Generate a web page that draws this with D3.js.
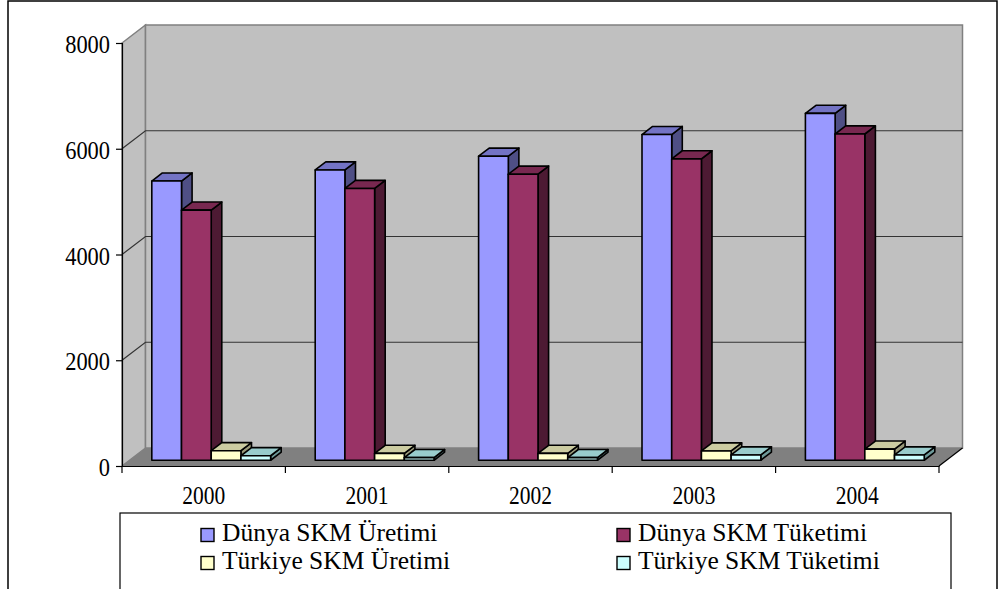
<!DOCTYPE html>
<html>
<head>
<meta charset="utf-8">
<script src="https://cdn.jsdelivr.net/npm/d3@7"></script>
<style>
  html, body { margin: 0; padding: 0; background: #fff; }
  svg { display: block; }
  text { font-family: "Liberation Serif", "Times New Roman", serif; fill: #000; }
</style>
</head>
<body>
<svg id="chart" width="1000" height="589"></svg>
<script>
// Data
const years = ["2000", "2001", "2002", "2003", "2004"];
const seriesNames = ["Dünya SKM Üretimi", "Dünya SKM Tüketimi", "Türkiye SKM Üretimi", "Türkiye SKM Tüketimi"];
const dunyaUretim   = [5280, 5490, 5750, 6160, 6560];
const dunyaTuketim  = [4730, 5140, 5410, 5700, 6170];
const turkiyeUretim = [180, 130, 130, 175, 210];
const turkiyeTuketim = [85, 50, 50, 100, 100];
const yTicks = [0, 2000, 4000, 6000, 8000];

const seriesValues = [dunyaUretim, dunyaTuketim, turkiyeUretim, turkiyeTuketim];
// front / top / side shades per series
const palette = [
  { front: "#9999ff", top: "#7373c4", side: "#4f4f85" },
  { front: "#993366", top: "#782850", side: "#4d1a33" },
  { front: "#ffffcc", top: "#cccca1", side: "#999979" },
  { front: "#ccffff", top: "#99cccc", side: "#6e9999" }
];

const svg = d3.select("#chart");

// plot geometry (front plane) and depth projection
const plotLeft = 122, plotRight = 939, plotTop = 43, plotBottom = 466;
const depth = { dx: 23.5, dy: -18 };
const z0 = 0.32, z1 = 0.77;
const proj = (x, y, z) => [x + depth.dx * z, y + depth.dy * z];

const yScale = d3.scaleLinear().domain([0, 8000]).range([plotBottom, plotTop]);
const x0 = d3.scaleBand().domain(years).range([plotLeft, plotRight]).paddingInner(0).paddingOuter(0);
const x1 = d3.scaleBand().domain(seriesNames).range([0, x0.bandwidth()]).paddingInner(0).paddingOuter(0.75);

// outer frame
svg.append("rect").attr("x", 8).attr("y", 1).attr("width", 989).attr("height", 620)
  .attr("fill", "#fff").attr("stroke", "#000").attr("stroke-width", 1.5);

const poly = pts => pts.map(p => p.join(",")).join(" ");

// side wall
svg.append("polygon")
  .attr("points", poly([proj(plotLeft, plotTop, 0), proj(plotLeft, plotTop, 1), proj(plotLeft, plotBottom, 1), proj(plotLeft, plotBottom, 0)]))
  .attr("fill", "#c0c0c0").attr("stroke", "#808080").attr("stroke-width", 1.5);
// back wall
svg.append("polygon")
  .attr("points", poly([proj(plotLeft, plotTop, 1), proj(plotRight, plotTop, 1), proj(plotRight, plotBottom, 1), proj(plotLeft, plotBottom, 1)]))
  .attr("fill", "#c0c0c0").attr("stroke", "#808080").attr("stroke-width", 1.5);
// floor
svg.append("polygon")
  .attr("points", poly([proj(plotLeft, plotBottom, 0), proj(plotRight, plotBottom, 0), proj(plotRight, plotBottom, 1), proj(plotLeft, plotBottom, 1)]))
  .attr("fill", "#808080").attr("stroke", "none");
svg.append("line")
  .attr("x1", proj(plotRight, plotBottom, 0)[0]).attr("y1", proj(plotRight, plotBottom, 0)[1])
  .attr("x2", proj(plotRight, plotBottom, 1)[0]).attr("y2", proj(plotRight, plotBottom, 1)[1])
  .attr("stroke", "#000").attr("stroke-width", 1.2);

// gridlines on side and back walls
const grid = svg.append("g");
yTicks.filter(t => t > 0 && t < 8000).forEach(t => {
  const a = proj(plotLeft, yScale(t), 0), b = proj(plotLeft, yScale(t), 1), c = proj(plotRight, yScale(t), 1);
  grid.append("polyline").attr("points", poly([a, b, c]))
    .attr("fill", "none").attr("stroke", "#333").attr("stroke-width", 1.2);
});

// value axis
const yAxis = d3.axisLeft(yScale).tickValues(yTicks).tickSize(6).tickPadding(5).tickFormat(d3.format("d"));
const yg = svg.append("g").attr("transform", `translate(${plotLeft},0)`).call(yAxis);
yg.select(".domain").attr("stroke", "#000").attr("stroke-width", 1.2);
yg.selectAll(".tick line").attr("stroke", "#000").attr("stroke-width", 1.2);
yg.selectAll(".tick text")
  .attr("font-size", 25.5).attr("font-family", "Liberation Serif, serif")
  .attr("x", -12).attr("dy", "0.38em")
  .attr("textLength", d => String(d).length * 11.2)
  .attr("lengthAdjust", "spacingAndGlyphs");

// category axis
const xAxis = d3.axisBottom(x0).tickSize(0).tickPadding(0);
const xg = svg.append("g").attr("transform", `translate(0,${plotBottom})`).call(xAxis);
xg.select(".domain").attr("stroke", "#000").attr("stroke-width", 1.2);
xg.selectAll(".tick text")
  .attr("font-size", 25.5).attr("font-family", "Liberation Serif, serif")
  .attr("y", 20)
  .attr("textLength", 43)
  .attr("lengthAdjust", "spacingAndGlyphs");
// boundary tick marks between categories
const bounds = years.map(d => x0(d)).concat([plotRight]);
svg.append("g").selectAll("line").data(bounds).join("line")
  .attr("x1", d => d).attr("x2", d => d)
  .attr("y1", plotBottom).attr("y2", plotBottom + 7)
  .attr("stroke", "#000").attr("stroke-width", 1.2);

// 3D bars
const bars = svg.append("g");
years.forEach((yr, i) => {
  seriesNames.forEach((s, j) => {
    const v = seriesValues[j][i];
    const xl = x0(yr) + x1(s), xr = xl + x1.bandwidth();
    const yt = yScale(v), yb = yScale(0);
    const col = palette[j];
    const g = bars.append("g").attr("stroke", "#000").attr("stroke-width", 1.6).attr("stroke-linejoin", "round");
    // right side
    g.append("polygon")
      .attr("points", poly([proj(xr, yt, z0), proj(xr, yt, z1), proj(xr, yb, z1), proj(xr, yb, z0)]))
      .attr("fill", col.side);
    // top
    g.append("polygon")
      .attr("points", poly([proj(xl, yt, z0), proj(xr, yt, z0), proj(xr, yt, z1), proj(xl, yt, z1)]))
      .attr("fill", col.top);
    // front
    g.append("polygon")
      .attr("points", poly([proj(xl, yt, z0), proj(xr, yt, z0), proj(xr, yb, z0), proj(xl, yb, z0)]))
      .attr("fill", col.front);
  });
});

// legend
const legend = svg.append("g");
legend.append("rect").attr("x", 120).attr("y", 513).attr("width", 831).attr("height", 120)
  .attr("fill", "#fff").attr("stroke", "#000").attr("stroke-width", 1.2);
const legPos = [[201, 541], [617, 541], [201, 569], [617, 569]];
seriesNames.forEach((s, j) => {
  const [lx, ly] = legPos[j];
  legend.append("rect").attr("x", lx).attr("y", ly - 12.5).attr("width", 13).attr("height", 13)
    .attr("fill", palette[j].front).attr("stroke", "#000").attr("stroke-width", 1.4);
  legend.append("text").attr("x", lx + 21).attr("y", ly)
    .attr("font-size", 25.5).text(s);
});
</script>
</body>
</html>
